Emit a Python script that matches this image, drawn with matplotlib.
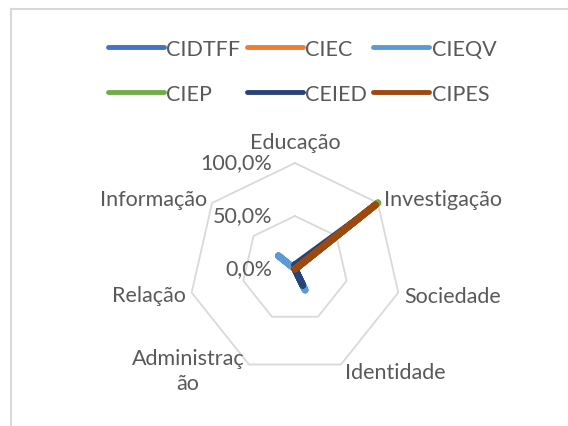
import numpy as np
import matplotlib.pyplot as plt
from matplotlib.lines import Line2D

categories = ['Educação', 'Investigação', 'Sociedade', 'Identidade',
              'Administraç\não', 'Relação', 'Informação']
series_names = ['CIDTFF', 'CIEC', 'CIEQV', 'CIEP', 'CEIED', 'CIPES']
colours = ['#4472C4', '#ED7D31', '#5B9BD5', '#70AD47', '#264478', '#9E480E']

# values in % per category (same order as categories)
cidtff = [0, 90, 0, 0, 0, 0, 0]
ciec = [0, 90, 0, 0, 0, 0, 0]
cieqv = [0, 58, 0, 22, 0, 0, 20]
ciep = [0, 100, 0, 0, 0, 0, 0]
ceied = [4, 78, 0, 17, 0, 0, 0]
cipes = [0, 97, 0, 0, 0, 0, 0]
values = [cidtff, ciec, cieqv, ciep, ceied, cipes]

ring_levels = [50, 100]
tick_levels = [0, 50, 100]
tick_labels = ['0,0%', '50,0%', '100,0%']

plt.rcParams['font.family'] = ['Lato', 'DejaVu Sans']
text_col = '#595959'
fs = 15.5

fig = plt.figure(figsize=(5.68, 4.27), dpi=100)
ax = fig.add_axes([0.3327, 0.1194, 0.3732, 0.4965], projection='polar')
ax.set_theta_offset(np.pi / 2)
ax.set_theta_direction(-1)
ax.set_ylim(0, 100)
ax.grid(False)
ax.set_xticks([])
ax.set_yticks([])
ax.spines['polar'].set_visible(False)
ax.patch.set_alpha(0)

n = len(categories)
theta = np.arange(n) * 2 * np.pi / n
theta_closed = np.append(theta, theta[0])

for lev in ring_levels:
    ax.plot(theta_closed, [lev] * (n + 1), color='#D9D9D9', lw=1.3,
            zorder=1, clip_on=False)

lines = []
for name, vals, c in zip(series_names, values, colours):
    v = np.append(vals, vals[0])
    ln, = ax.plot(theta_closed, v, color=c, lw=5, label=name,
                  solid_capstyle='round', solid_joinstyle='round',
                  zorder=3, clip_on=False)
    lines.append(ln)

# category labels
offsets = [(0, 21, 'center'), (6, 4, 'left'), (6, -3, 'left'),
           (4, -7, 'left'), (-61, -6, 'center'), (-6, -2, 'right'),
           (-5, 4, 'right')]
for t, lab, (dx, dy, ha) in zip(theta, categories, offsets):
    ax.annotate(lab, xy=(t, 100), xytext=(dx, dy),
                textcoords='offset pixels', ha=ha, va='center',
                multialignment='center', linespacing=1.35,
                fontsize=fs, color=text_col, annotation_clip=False)

# radial tick labels
for lev, lab in zip(tick_levels, tick_labels):
    ax.annotate(lab, xy=(0, lev), xytext=(-23, 1),
                textcoords='offset pixels', ha='right', va='center',
                fontsize=fs, color=text_col, annotation_clip=False)

# legend filled row by row like Excel
order = [0, 3, 1, 4, 2, 5]
leg = fig.legend([lines[i] for i in order], [series_names[i] for i in order],
                 loc='upper center', bbox_to_anchor=(0.532, 0.952), ncol=3,
                 frameon=False, fontsize=fs, handlelength=2.6,
                 handletextpad=0.1, columnspacing=0.3, labelspacing=1.15)
for txt in leg.get_texts():
    txt.set_color(text_col)
for h in leg.legend_handles:
    h.set_linewidth(3.5)
    h.set_solid_capstyle('round')

# chart area border (only top and left visible)
x0 = 10.5 / 568
y0 = 1 - 9.5 / 427
fig.add_artist(Line2D([x0, 1.01], [y0, y0], color='#D9D9D9', lw=1.5,
                      transform=fig.transFigure))
fig.add_artist(Line2D([x0, x0], [y0, -0.01], color='#D9D9D9', lw=1.5,
                      transform=fig.transFigure))

fig.savefig('out.png', dpi=100)
